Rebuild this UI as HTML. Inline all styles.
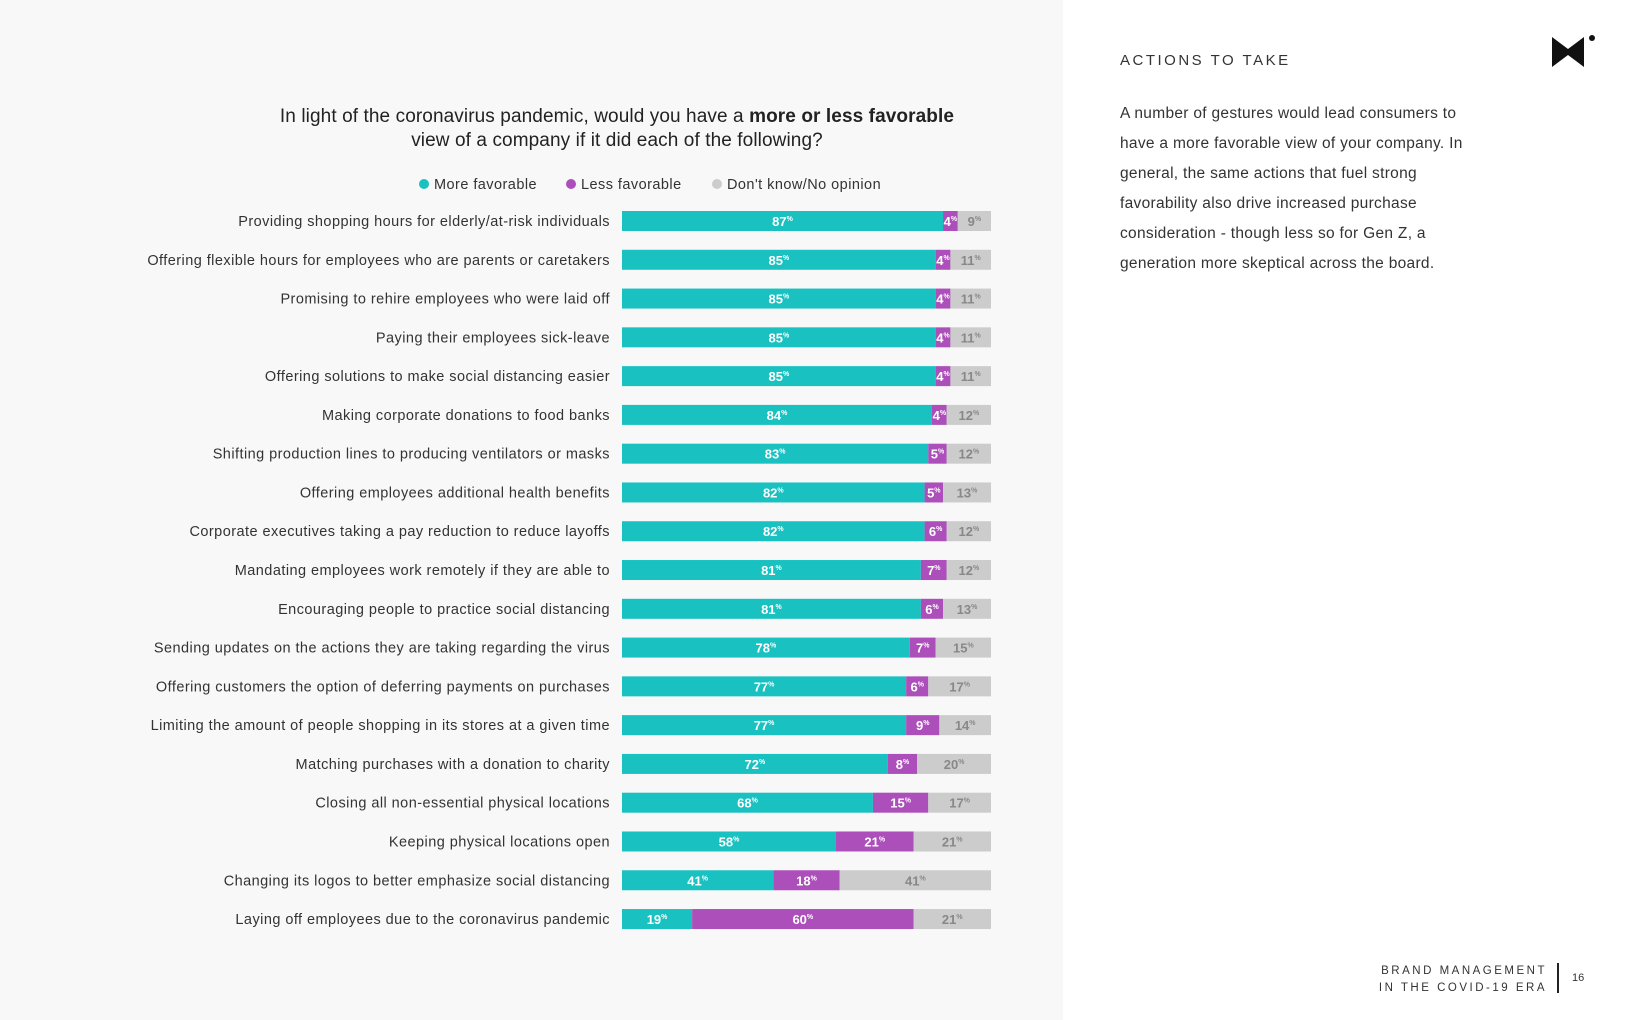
<!DOCTYPE html>
<html><head><meta charset="utf-8"><style>
body{margin:0;width:1630px;height:1020px;position:relative;font-family:"Liberation Sans",sans-serif;background:#fff;overflow:hidden}
#left{position:absolute;left:0;top:0;width:1063px;height:1020px;background:#f8f8f8}
.t{position:absolute;white-space:nowrap}
</style></head><body>
<div id="left"></div>
<div class="t" style="left:0;width:1234px;top:105px;text-align:center;font-size:19px;color:#222;line-height:24px;letter-spacing:0.1px">In light of the coronavirus pandemic, would you have a <b>more or less favorable</b><br>view of a company if it did each of the following?</div>
<svg id="chart" width="1630" height="1020" style="position:absolute;left:0;top:0"></svg>
<div class="t" style="left:1120px;top:52px;font-size:15px;letter-spacing:2.5px;color:#333">ACTIONS TO TAKE</div>
<div class="t" style="left:1120px;top:99px;font-size:15.5px;line-height:30px;color:#333;white-space:normal;width:370px;letter-spacing:0.3px">A number of gestures would lead consumers to have a more favorable view of your company. In general, the same actions that fuel strong favorability also drive increased purchase consideration - though less so for Gen Z, a generation more skeptical across the board.</div>
<svg style="position:absolute;left:1550px;top:33px" width="50" height="40"><path d="M2 4 L18 16 L34 4 L34 34 L18 22 L2 34 Z" fill="#111"/><circle cx="42" cy="5" r="3" fill="#111"/></svg>
<div class="t" style="right:83px;top:963px;font-size:11.5px;letter-spacing:2.5px;line-height:17px;text-align:right;color:#333">BRAND MANAGEMENT<br>IN THE COVID-19 ERA</div>
<div style="position:absolute;left:1557px;top:963px;width:2px;height:30px;background:#222"></div>
<div class="t" style="left:1572px;top:972px;font-size:11px;color:#333">16</div>
<script>
const categories=["Providing shopping hours for elderly/at-risk individuals","Offering flexible hours for employees who are parents or caretakers","Promising to rehire employees who were laid off ","Paying their employees sick-leave ","Offering solutions to make social distancing easier","Making corporate donations to food banks","Shifting production lines to producing ventilators or masks","Offering employees additional health benefits","Corporate executives taking a pay reduction to reduce layoffs","Mandating employees work remotely if they are able to","Encouraging people to practice social distancing","Sending updates on the actions they are taking regarding the virus","Offering customers the option of deferring payments on purchases","Limiting the amount of people shopping in its stores at a given time","Matching purchases with a donation to charity","Closing all non-essential physical locations","Keeping physical locations open","Changing its logos to better emphasize social distancing","Laying off employees due to the coronavirus pandemic"];
const moreFav=[87,85,85,85,85,84,83,82,82,81,81,78,77,77,72,68,58,41,19];
const lessFav=[4,4,4,4,4,4,5,5,6,7,6,7,6,9,8,15,21,18,60];
const dontKnow=[9,11,11,11,11,12,12,13,12,12,13,15,17,14,20,17,21,41,21];
const seriesNames=["More favorable","Less favorable","Don't know/No opinion"];
const colors=["#19c1c1","#ad4fba","#cccccc"];
const svg=document.getElementById('chart');const NS="http://www.w3.org/2000/svg";
const x0=622,x1=991;const xs=v=>x0+(x1-x0)*v/100;
const y0=221,step=38.78,bh=20;const ys=i=>y0+i*step;
function mk(t,a){const e=document.createElementNS(NS,t);for(const k in a)e.setAttribute(k,a[k]);svg.appendChild(e);return e;}
const lx=[424,571,717];
seriesNames.forEach((n,k)=>{
const c=mk('circle',{cx:lx[k],cy:184,r:5,fill:colors[k]});


const t=mk('text',{x:lx[k]+10,y:189,'font-size':14.5,'letter-spacing':0.45,fill:'#333','font-family':'Liberation Sans, sans-serif'});t.textContent=n;


});
const series=[moreFav,lessFav,dontKnow];
categories.forEach((c,i)=>{
const cy=ys(i);
const l=mk('text',{x:610,y:cy+5,'text-anchor':'end','font-size':14.5,'letter-spacing':0.45,fill:'#333','font-family':'Liberation Sans, sans-serif'});l.textContent=c;


let acc=0;
series.forEach((s,k)=>{
const v=s[i];const a=xs(acc),b=xs(acc+v);acc+=v;
const r=mk('rect',{x:a,y:cy-bh/2,width:b-a,height:bh,fill:colors[k]});


const t=mk('text',{x:(a+b)/2,y:cy+5,'text-anchor':'middle','font-size':13,'font-weight':'bold',fill:k==2?'#888':'#fff','font-family':'Liberation Sans, sans-serif'});
t.textContent=v;const sp=document.createElementNS(NS,'tspan');sp.setAttribute('font-size','7');sp.setAttribute('dy','-5');sp.textContent='%';t.appendChild(sp);


});
});
</script>
</body></html>
